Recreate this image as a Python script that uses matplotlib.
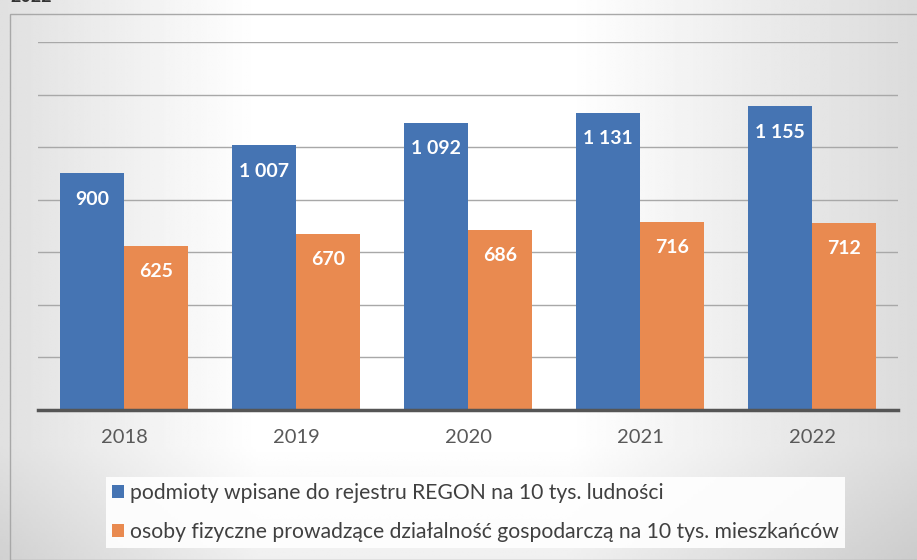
import matplotlib
matplotlib.use("Agg")
import matplotlib.pyplot as plt
from matplotlib.patches import Patch, Rectangle
import numpy as np

years = ["2018", "2019", "2020", "2021", "2022"]
regon = [900, 1007, 1092, 1131, 1155]
osoby = [625, 670, 686, 716, 712]
regon_labels = ["900", "1 007", "1 092", "1 131", "1 155"]
osoby_labels = ["625", "670", "686", "716", "712"]
series_names = [
    "podmioty wpisane do rejestru REGON na 10 tys. ludności",
    "osoby fizyczne prowadzące działalność gospodarczą na 10 tys. mieszkańców",
]

BLUE = "#4574b3"
ORANGE = "#e98a50"
FONT = ["Lato", "DejaVu Sans"]

W, H = 917, 560
fig = plt.figure(figsize=(W / 100, H / 100), dpi=100, facecolor="white")

# scanned-paper shading: grey at the sides, white in the middle
bg = fig.add_axes([0, 0, 1, 1], zorder=-10)
xs = np.linspace(0, 1, 400)
ys = np.linspace(0, 1, 200)
X, Y = np.meshgrid(xs, ys)
shade = np.clip(1 - X / 0.28, 0, 1) * 0.12 + np.clip((X - 0.62) / 0.38, 0, 1) * 0.14
shade = shade + np.clip((0.2 - Y) / 0.2, 0, 1) * 0.06
img = 1 - shade
bg.imshow(img, cmap="gray", vmin=0, vmax=1, extent=(0, 1, 0, 1),
          origin="lower", aspect="auto", interpolation="bilinear")
bg.set_xlim(0, 1)
bg.set_ylim(0, 1)
bg.axis("off")

# outer frame of the scanned chart
fig.add_artist(Rectangle((10 / W, 0), 1.2, 1 - 14 / H, transform=fig.transFigure,
                         fill=False, edgecolor="#a8a8a8", linewidth=1.0))
# cut-off heading above the chart
fig.text(10 / W, 1 + 3 / H, "2022", ha="left", va="center", fontsize=13,
         fontweight="bold", color="#333333", family=FONT)

ax = fig.add_axes([38 / W, 1 - 410 / H, (898 - 38) / W, (410 - 42) / H])
x = np.arange(len(years))
bw = 0.372
b1 = ax.bar(x - bw / 2, regon, width=bw, color=BLUE, zorder=3)
b2 = ax.bar(x + bw / 2, osoby, width=bw, color=ORANGE, zorder=3)

for rects, labels in ((b1, regon_labels), (b2, osoby_labels)):
    for r, lab in zip(rects, labels):
        ax.annotate(lab, (r.get_x() + r.get_width() / 2, r.get_height()),
                    xytext=(0, -26), textcoords="offset pixels",
                    ha="center", va="center", color="white", fontsize=14,
                    fontweight="bold", family=FONT, zorder=4)

ax.set_xlim(-0.5, len(years) - 0.5)
ax.set_ylim(0, 1400)
ax.set_yticks(np.arange(200, 1401, 200))
ax.yaxis.grid(True, color="#a8a8a8", linewidth=1.0, zorder=0)
ax.tick_params(axis="y", left=False, labelleft=False)
ax.set_xticks(x)
ax.set_xticklabels(years, fontsize=14.5, color="#595959", family=FONT)
ax.tick_params(axis="x", length=0, pad=14)
for s in ("top", "right", "left"):
    ax.spines[s].set_visible(False)
ax.spines["bottom"].set_color("#555555")
ax.spines["bottom"].set_linewidth(2.5)
ax.spines["bottom"].set_zorder(5)
ax.set_facecolor("none")

handles = [Patch(facecolor=BLUE), Patch(facecolor=ORANGE)]
leg = fig.legend(handles, series_names, loc="upper left",
                 bbox_to_anchor=(95 / W, 1 - 466 / H), frameon=True,
                 fancybox=False, edgecolor="none", facecolor="white",
                 handlelength=0.55, handleheight=0.55, handletextpad=0.3,
                 labelspacing=0.9, borderpad=0.3,
                 prop={"family": FONT, "size": 15.2})
leg.get_frame().set_alpha(0.9)
for t in leg.get_texts():
    t.set_color("#404040")

fig.savefig("out.png", dpi=100, facecolor="white")
